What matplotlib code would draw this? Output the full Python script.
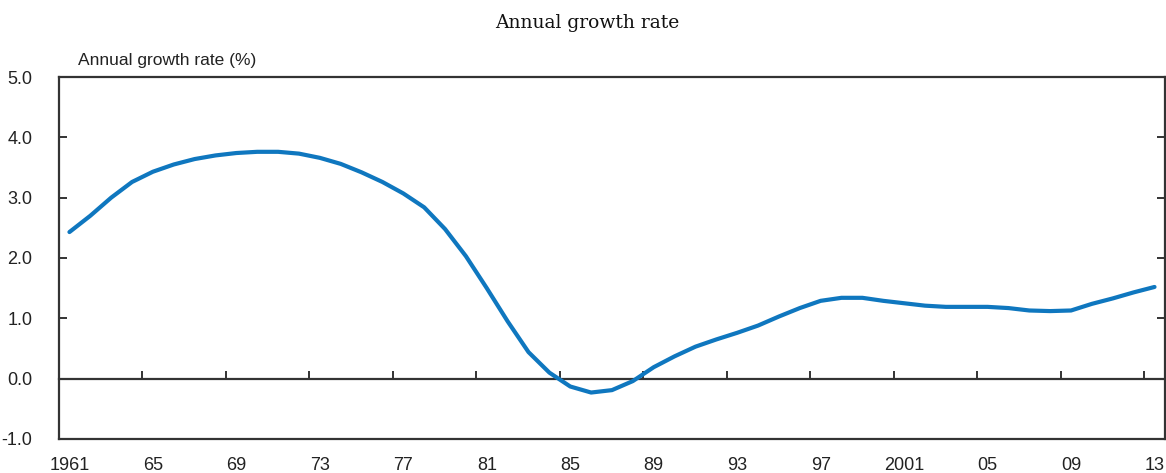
import numpy as np
import matplotlib.pyplot as plt
from matplotlib.ticker import FormatStrFormatter

years = list(range(1961, 2014))
growth = [2.43, 2.70, 3.00, 3.26, 3.43, 3.55, 3.64, 3.70, 3.74, 3.76,
          3.76, 3.73, 3.66, 3.56, 3.42, 3.26, 3.07, 2.84, 2.48, 2.03,
          1.50, 0.95, 0.44, 0.10, -0.13, -0.23, -0.19, -0.04, 0.19, 0.37,
          0.53, 0.65, 0.76, 0.88, 1.03, 1.17, 1.29, 1.34, 1.34, 1.29,
          1.25, 1.21, 1.19, 1.19, 1.19, 1.17, 1.13, 1.12, 1.13, 1.24,
          1.33, 1.43, 1.52]
label_years = [1961, 1965, 1969, 1973, 1977, 1981, 1985, 1989, 1993, 1997,
               2001, 2005, 2009, 2013]
label_text = ["1961", "65", "69", "73", "77", "81", "85", "89", "93", "97",
              "2001", "05", "09", "13"]
y_ticks = [-1.0, 0.0, 1.0, 2.0, 3.0, 4.0, 5.0]

plt.rcParams['font.family'] = ['Liberation Sans', 'DejaVu Sans']
frame = '#333333'

fig = plt.figure(figsize=(11.66, 4.73), dpi=100)
ax = fig.add_axes([0.0506, 0.0719, 0.9485, 0.7653])

ax.plot(years, growth, color='#0F77BF', lw=3.0, solid_capstyle='round', zorder=3)

ymin, ymax = -1.0, 5.0
ax.set_ylim(ymin, ymax)
ax.set_xlim(years[0] - 0.5, years[-1] + 0.5)

for s in ax.spines.values():
    s.set_color(frame)
    s.set_linewidth(1.6)

# year labels at band centres, no marks
ax.set_xticks(label_years)
ax.set_xticklabels(label_text)
ax.tick_params(axis='x', length=0, pad=13, labelsize=13, labelcolor='#222222')

ax.set_yticks(y_ticks)
ax.yaxis.set_major_formatter(FormatStrFormatter('%.1f'))
ax.tick_params(axis='y', direction='in', length=6, width=1.4, color=frame,
               left=True, right=True, pad=19, labelsize=13, labelcolor='#222222')

# zero line carrying the category boundary ticks
zero_pos = (0 - ymin) / (ymax - ymin)
sec = ax.secondary_xaxis(zero_pos)
sec.set_xticks([y - 0.5 for y in label_years[1:]])
sec.tick_params(direction='in', length=6, width=1.4, color=frame, labelbottom=False,
                labeltop=False)
for s in sec.spines.values():
    s.set_color(frame)
    s.set_linewidth(1.6)

fig.text(0.067, 0.873, "Annual growth rate (%)", fontsize=12.5, color='#222222',
         va='center', ha='left')
fig.text(0.504, 0.952, "Annual growth rate", fontsize=13.5, family='DejaVu Serif',
         color='#111111', ha='center', va='center')

fig.savefig('out.png', dpi=100)
